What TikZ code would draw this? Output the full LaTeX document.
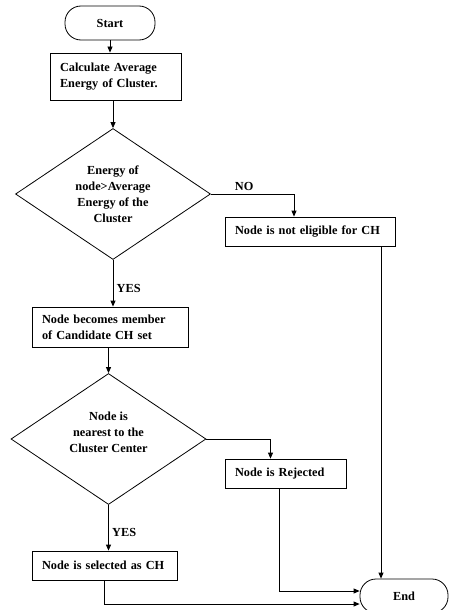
\documentclass[tikz,border=0pt]{standalone}
\usepackage{fontspec}
\setmainfont{Liberation Serif}
\usetikzlibrary{shapes.geometric,arrows.meta}
\begin{document}
\begin{tikzpicture}[x=1pt,y=-1pt,>={Triangle[length=6pt,width=5pt]},line width=0.8pt,font=\bfseries\fontsize{12.3}{16}\selectfont,
	term/.style={draw,rectangle,rounded corners=16pt,minimum width=90pt,minimum height=34pt},
	box/.style={draw,rectangle,align=left,inner xsep=10pt,inner ysep=0pt},
	decision/.style={draw,diamond,aspect=1.5,inner sep=0pt,align=center,minimum width=195pt,minimum height=131pt}]
	\useasboundingbox (0,0) rectangle (448,610);
	\node[term] (start) at (110,23) {Start};
	\node[box,text width=111pt,minimum height=47pt] (calc) at (115.5,76.5) {Calculate Average\\Energy of Cluster.};
	\node[decision] (energy) at (113,194) {Energy of\\node>Average\\Energy of the\\Cluster};
	\node[box,text width=150pt,minimum height=29pt] (noteligible) at (310,231.5) {Node is not eligible for CH};
	\node[box,text width=136pt,minimum height=40pt] (member) at (110,327) {Node becomes member\\of Candidate CH set};
	\node[decision] (nearest) at (108.5,439) {Node is\\nearest to the\\Cluster Center\\[-2pt]\mbox{}};
	\node[box,text width=101pt,minimum height=29pt] (rejected) at (285.5,473.5) {Node is Rejected};
	\node[box,text width=125pt,minimum height=29pt] (selected) at (104.5,565.5) {Node is selected as CH};
	\node[term,minimum width=88pt] (end) at (404,596) {End};
	\draw[->] (start) -- (start |- calc.north);
	\draw[->] (energy.north |- calc.south) -- (energy.north);
	\draw[->] (energy.east) -| ([xshift=-16pt]noteligible.north) node[pos=0.2,above]{NO};
	\draw[->] (energy.south) -- (energy.south |- member.north) node[pos=0.62,right]{YES};
	\draw[->] (nearest.north |- member.south) -- (nearest.north);
	\draw[->] (nearest.east) -| ([xshift=-15pt]rejected.north);
	\draw[->] (nearest.south) -- (nearest.south |- selected.north) node[pos=0.6,right]{YES};
	\draw[->] ([xshift=71pt]noteligible.south) -- ([xshift=71pt]noteligible.south |- end.north);
	\draw[->] ([xshift=-6pt]rejected.south) |- ([yshift=5pt]end.west);
	\draw[->] (selected.south) |- ([yshift=-8pt]end.west);
\end{tikzpicture}
\end{document}
